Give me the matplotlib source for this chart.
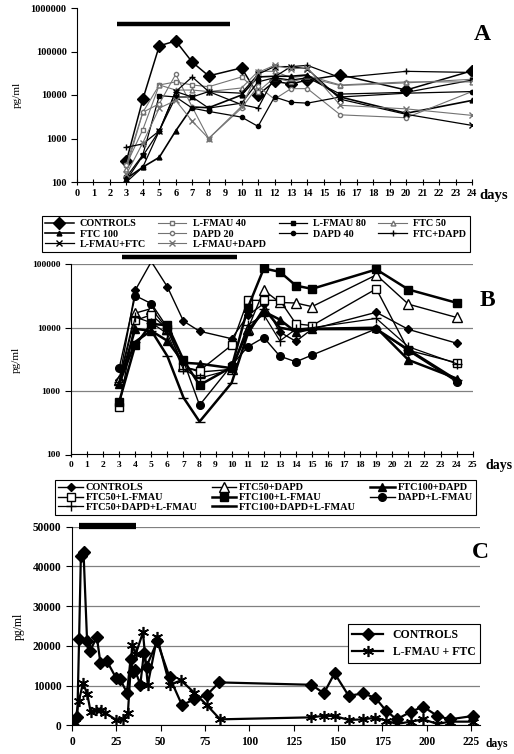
import matplotlib.pyplot as plt
from matplotlib.ticker import NullLocator

plt.rcParams['font.family'] = ['Liberation Serif', 'DejaVu Serif']
plt.rcParams['font.weight'] = 'bold'

# ---------------- data ----------------
# panel A: single drugs / two-drug combos, days 3..24
days_a = [3, 4, 5, 6, 7, 8, 10, 11, 12, 13, 14, 16, 20, 24]
names_a = ["CONTROLS", "L-FMAU 40", "L-FMAU 80", "FTC 50", "FTC 100",
           "DAPD 20", "DAPD 40", "FTC+DAPD", "L-FMAU+FTC", "L-FMAU+DAPD"]
controls_a = [300, 8000, 135000, 175000, 57000, 27500, 42000, 10000, 20500, 18000, 22000, 29000, 13000, 36000]
lfmau40_a = [250, 1600, 17000, 20000, 17000, 15500, 26000, 12000, 25000, 20000, 25000, 16500, 19000, 23000]
lfmau80_a = [130, 420, 9700, 9000, 9000, 5000, 6500, 20000, 25000, 22000, 25000, 10500, 11500, 22000]
ftc50_a = [200, 4000, 17000, 13000, 13000, 12000, 14500, 35000, 35000, 25000, 28000, 17000, 20000, 20000]
ftc100_a = [120, 220, 370, 1500, 5300, 5100, 10000, 26000, 27000, 27000, 29000, 9000, 3800, 7500]
dapd20_a = [250, 4000, 6300, 30000, 5300, 1000, 5000, 16000, 8000, 14000, 14000, 3500, 3000, 12000]
dapd40_a = [100, 220, 1500, 9000, 5000, 4200, 3100, 1900, 9000, 6800, 6500, 9000, 11000, 12000]
ftc_dapd_a = [630, 750, 1500, 12000, 26000, 12000, 6000, 5000, 26000, 45000, 48000, 25000, 35000, 33000]
lfmau_ftc_a = [110, 400, 1500, 12000, 9000, 12000, 11000, 30000, 45000, 45000, 40000, 8000, 3600, 2000]
lfmau_dapd_a = [150, 800, 5000, 7500, 2500, 1000, 5500, 33000, 48000, 40000, 42000, 5800, 4800, 3400]
series_a = [controls_a, lfmau40_a, lfmau80_a, ftc50_a, ftc100_a,
            dapd20_a, dapd40_a, ftc_dapd_a, lfmau_ftc_a, lfmau_dapd_a]
treat_a = [2.4, 9.3]

# panel B: combos, days 3..24
days_b = [3, 4, 5, 6, 7, 8, 10, 11, 12, 13, 14, 15, 19, 21, 24]
names_b = ["CONTROLS", "FTC50+DAPD", "FTC100+DAPD", "FTC50+L-FMAU",
           "FTC100+L-FMAU", "DAPD+L-FMAU", "FTC50+DAPD+L-FMAU", "FTC100+DAPD+L-FMAU"]
controls_b = [1500, 39000, 110000, 44000, 12700, 8800, 6700, 15600, 24000, 8500, 6100, 9500, 17500, 9400, 5700]
ftc50_dapd_b = [1500, 17000, 20000, 9500, 2450, 2000, 2200, 9500, 39000, 25000, 24500, 21500, 68000, 23500, 14500]
ftc100_dapd_b = [1300, 9600, 8900, 6200, 2800, 2700, 2300, 9000, 18000, 13400, 8500, 9600, 10000, 3100, 1580]
ftc50_lfmau_b = [560, 13000, 16000, 9500, 2400, 2100, 5300, 27000, 27000, 27000, 11500, 10800, 41000, 4400, 2800]
ftc100_lfmau_b = [680, 5300, 11500, 10900, 3100, 1240, 2400, 20500, 86000, 76000, 46000, 41000, 83000, 40000, 24700]
dapd_lfmau_b = [2300, 32000, 24000, 10000, 3000, 600, 2560, 5000, 7000, 3550, 2900, 3700, 9600, 4300, 1400]
ftc50_triple_b = [1400, 14700, 12000, 8000, 2200, 1600, 2200, 11000, 16000, 6200, 9500, 10000, 14000, 5000, 2700]
ftc100_triple_b = [1300, 6000, 9000, 3550, 790, 330, 1350, 8000, 20000, 10000, 9000, 9500, 9500, 4500, 1500]
series_b = [controls_b, ftc50_dapd_b, ftc100_dapd_b, ftc50_lfmau_b,
            ftc100_lfmau_b, dapd_lfmau_b, ftc50_triple_b, ftc100_triple_b]
treat_b = [3.2, 10.3]

# panel C: long follow-up
days_ctrl_c = [0, 3, 4, 5, 6.5, 8.5, 10, 14, 16, 19.5, 25, 27, 31, 33, 34.5, 35.5, 38.5, 40.5, 42,
               48, 55, 62, 69, 76, 83, 135, 142, 148, 156, 164, 171, 177, 183, 191, 198, 206, 213, 226]
ctrl_c = [340, 2200, 21700, 42600, 43600, 21300, 18600, 22200, 15800, 16300, 11800, 11700, 8200, 16600,
          13300, 14000, 10200, 18100, 14800, 21100, 12100, 5100, 6550, 7650, 10800, 10200, 8050, 13100,
          7400, 8050, 6900, 3700, 1500, 3400, 4700, 2350, 1500, 2350]
days_trt_c = [0, 1.5, 3.8, 6.2, 8.6, 10.5, 13.7, 16.5, 18.4, 25, 28.7, 31.5, 33.9, 36, 40, 42.7, 48,
              55, 61.4, 69, 76, 83.5, 135, 142, 148, 156, 164, 171, 177, 183, 191, 198, 206, 213, 226]
trt_c = [100, 500, 6000, 10600, 7900, 3400, 3900, 3900, 3200, 1350, 1500, 3000, 20200, 18000, 23400,
         10200, 22200, 10200, 11300, 8200, 5100, 1500, 2000, 2400, 2350, 1340, 1500, 1900, 1200, 340,
         920, 1500, 340, 920, 920]
names_c = ["CONTROLS", "L-FMAU + FTC"]
treat_c = [3.9, 35.8]

log_ticks_a = [100, 1000, 10000, 100000, 1000000]
log_ticks_b = [100, 1000, 10000, 100000]
lin_ticks_c = [0, 10000, 20000, 30000, 40000, 50000]
xticks_c = [0, 25, 50, 75, 100, 125, 150, 175, 200, 225]

# ---------------- styles ----------------
G = '0.45'
styles_a = [
    dict(color='black', marker='D', ms=6.5, lw=1.1),
    dict(color=G, marker='s', ms=3, mfc='white', lw=0.8),
    dict(color='black', marker='s', ms=3, lw=0.9),
    dict(color=G, marker='^', ms=3.5, mfc='white', lw=0.8),
    dict(color='black', marker='^', ms=3.5, lw=1.2),
    dict(color=G, marker='o', ms=3, mfc='white', lw=0.8),
    dict(color='black', marker='o', ms=3, lw=0.9),
    dict(color='black', marker='+', ms=5, lw=0.9),
    dict(color='black', marker='x', ms=4, lw=0.9),
    dict(color=G, marker='x', ms=4, lw=0.8),
]
styles_b = [
    dict(color='black', marker='D', ms=4.5, lw=1.0),
    dict(color='black', marker='^', ms=6.5, mfc='white', lw=1.0),
    dict(color='black', marker='^', ms=6, lw=1.8),
    dict(color='black', marker='s', ms=6, mfc='white', lw=1.0),
    dict(color='black', marker='s', ms=6, lw=1.8),
    dict(color='black', marker='o', ms=5.5, lw=1.0),
    dict(color='black', marker='+', ms=7, lw=0.9),
    dict(color='black', marker='_', ms=7, lw=1.8),
]

W, H = 514, 754


def fx(px):
    return px / W


def fy(py):
    return 1 - py / H


def rect(x0, y0, x1, y1):
    return [fx(x0), fy(y1), fx(x1) - fx(x0), fy(y0) - fy(y1)]


fig = plt.figure(figsize=(W / 100, H / 100), dpi=100)

# ---------------- panel A ----------------
ax_a = fig.add_axes(rect(77, 8, 472, 182))
handles_a = []
for vals, st, name in zip(series_a, styles_a, names_a):
    h, = ax_a.plot(days_a, vals, label=name, mec=st['color'], **st)
    handles_a.append(h)
ax_a.plot(treat_a, [4.3e5, 4.3e5], color='black', lw=3.2, solid_capstyle='butt')
ax_a.set_yscale('log')
ax_a.set_ylim(100, 1e6)
ax_a.set_xlim(0, 24)
ax_a.set_yticks(log_ticks_a)
ax_a.set_yticklabels([str(t) for t in log_ticks_a])
ax_a.yaxis.set_minor_locator(NullLocator())
ax_a.set_xticks(range(0, 25))
ax_a.spines[['top', 'right']].set_visible(False)
ax_a.tick_params(axis='x', direction='inout', length=4, labelsize=7.5, pad=3)
ax_a.tick_params(axis='y', direction='out', length=4, labelsize=7.5)
ax_a.set_ylabel('pg/ml', fontsize=8, labelpad=6)
fig.text(fx(494), fy(196), 'days', fontsize=10.5, ha='center', va='center')
fig.text(fx(482), fy(34), 'A', fontsize=17, ha='center', va='center')

order_a = [0, 4, 8, 1, 5, 9, 2, 6, 3, 7]
leg_a = fig.legend([handles_a[i] for i in order_a], [names_a[i] for i in order_a],
                   ncol=4, loc='upper left', mode='expand',
                   bbox_to_anchor=(fx(37), fy(211), fx(475) - fx(37), 0),
                   fontsize=7.3, handlelength=2.8, labelspacing=0.12, borderpad=0.3,
                   handletextpad=0.6, fancybox=False, edgecolor='black', framealpha=1)
leg_a.get_frame().set_linewidth(0.8)

# ---------------- panel B ----------------
ax_b = fig.add_axes(rect(71, 264.3, 472.7, 454.5))
handles_b = []
for vals, st, name in zip(series_b, styles_b, names_b):
    mk = [j for j in range(len(vals)) if vals[j] <= 100000]
    h, = ax_b.plot(days_b, vals, label=name, mec=st['color'], markevery=mk, **st)
    handles_b.append(h)
ax_b.plot(treat_b, [1.3e5, 1.3e5], color='black', lw=3.2, solid_capstyle='butt', clip_on=False)
ax_b.set_yscale('log')
ax_b.set_ylim(100, 1e5)
ax_b.set_xlim(0, 25)
ax_b.set_yticks(log_ticks_b)
ax_b.set_yticklabels([str(t) for t in log_ticks_b])
ax_b.yaxis.set_minor_locator(NullLocator())
ax_b.set_xticks(range(0, 26))
ax_b.yaxis.grid(True, color='0.5', lw=0.9)
ax_b.set_axisbelow(True)
ax_b.spines[['top', 'right']].set_visible(False)
ax_b.tick_params(axis='x', direction='inout', length=4, labelsize=6.8, pad=3)
ax_b.tick_params(axis='y', direction='out', length=4, labelsize=6.8)
ax_b.set_ylabel('pg/ml', fontsize=8, labelpad=8)
fig.text(fx(499), fy(465), 'days', fontsize=10, ha='center', va='center')
fig.text(fx(487), fy(300), 'B', fontsize=17, ha='center', va='center')

order_b = [0, 3, 6, 1, 4, 7, 2, 5]
leg_b = fig.legend([handles_b[i] for i in order_b], [names_b[i] for i in order_b],
                   ncol=3, loc='upper left', mode='expand',
                   bbox_to_anchor=(fx(50), fy(475), fx(481) - fx(50), 0),
                   fontsize=7.4, handlelength=2.4, labelspacing=0.05, borderpad=0.3,
                   handletextpad=0.3, fancybox=False, edgecolor='black', framealpha=1)
leg_b.get_frame().set_linewidth(0.8)

# ---------------- panel C ----------------
ax_c = fig.add_axes(rect(72, 526.7, 480, 725.3))
ax_c.plot(days_ctrl_c, ctrl_c, color='black', marker='D', ms=6, lw=1.6, label=names_c[0])
ax_c.plot(days_trt_c, trt_c, color='black', marker=(6, 2, 0), ms=8, mew=1.2, lw=1.6, label=names_c[1])
ax_c.plot(treat_c, [50300, 50300], color='black', lw=4.5, solid_capstyle='butt', clip_on=False)
ax_c.set_xlim(0, 230)
ax_c.set_ylim(0, 50000)
ax_c.set_yticks(lin_ticks_c)
ax_c.set_xticks(xticks_c)
ax_c.yaxis.grid(True, color='0.5', lw=0.9)
ax_c.set_axisbelow(True)
ax_c.spines[['top', 'right']].set_visible(False)
ax_c.tick_params(axis='both', direction='out', length=4, labelsize=8.3)
ax_c.set_ylabel('pg/ml', fontsize=8.5, labelpad=6)
fig.text(fx(497), fy(744), 'days', fontsize=8.3, ha='center', va='center')
fig.text(fx(480), fy(553), 'C', fontsize=17, ha='center', va='center')
leg_c = ax_c.legend(loc='upper right', bbox_to_anchor=(1.0, 0.51), borderaxespad=0,
                    fontsize=8.5, handlelength=2.6, borderpad=0.4, labelspacing=0.45,
                    fancybox=False, edgecolor='black', framealpha=1)
leg_c.get_frame().set_linewidth(0.8)

fig.savefig('out.png', dpi=100)
